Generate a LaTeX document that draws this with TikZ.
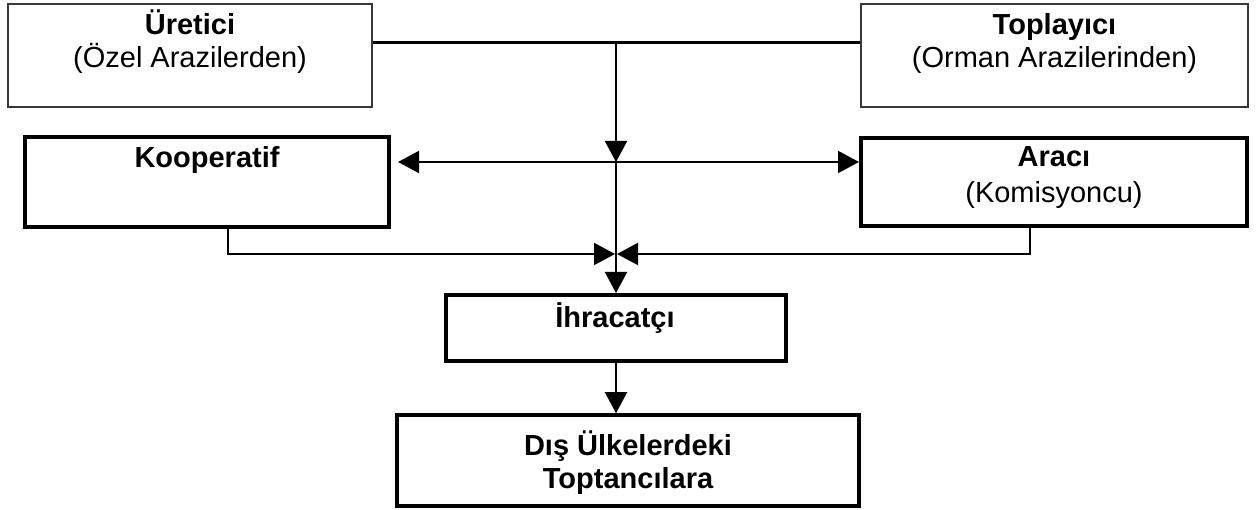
\documentclass[tikz,border=0pt]{standalone}
\usepackage{fontspec}
\setmainfont{Liberation Sans}
\usetikzlibrary{arrows.meta,calc}
\begin{document}
\begin{tikzpicture}[x=1pt,y=-1pt,
  thinbox/.style={draw=black!78,line width=1.5pt,inner sep=0pt},
  thickbox/.style={draw=black,line width=4pt,inner sep=0pt},
  midbox/.style={draw=black,line width=3.5pt,inner sep=0pt},
  conn/.style={line width=2pt},
  arr/.style={-{Triangle[length=21pt,width=22pt]}},
  txt/.style={anchor=base,inner sep=0pt,font=\fontsize{29}{34}\selectfont},
  btxt/.style={txt,font=\fontsize{29}{34}\selectfont\bfseries}]
\useasboundingbox[fill=white] (0,0) rectangle (1259,510);
% boxes
\node[thinbox,minimum width=364pt,minimum height=103pt] (ure) at (190,55.5) {};
\node[thinbox,minimum width=387pt,minimum height=103pt] (top) at (1054.5,55.5) {};
\node[thickbox,minimum width=364pt,minimum height=90pt] (koop) at (207,182) {};
\node[thickbox,minimum width=386pt,minimum height=88pt] (araci) at (1054,182) {};
\node[thickbox,minimum width=340pt,minimum height=66pt] (ihr) at (616,328) {};
\node[midbox,minimum width=462pt,minimum height=91pt] (dis) at (628,460.5) {};
% texts
\node[btxt] (ure1) at (190,35) {Üretici};
\node[txt] (ure2) at (190,68) {(Özel Arazilerden)};
\node[btxt] (top1) at (1054.5,35) {Toplayıcı};
\node[txt] (top2) at (1054.5,68) {(Orman Arazilerinden)};
\node[btxt] (koop1) at (207,168) {Kooperatif};
\node[btxt] (araci1) at (1054,167) {Aracı};
\node[txt] (araci2) at (1054,203) {(Komisyoncu)};
\node[btxt] (ihr1) at (615,328) {İhracatçı};
\node[btxt] (dis1) at (628,456) {Dış Ülkelerdeki};
\node[btxt] (dis2) at (628,489) {Toptancılara};
% junctions
\coordinate (j1) at (616,42.5);
\coordinate (j2) at (616,162);
\coordinate (j3) at (616,254);
% connectors
\draw[line width=3pt] (ure.east |- j1) -- (top.west |- j1);
\draw[conn,arr] (j1) -- (j2);
\draw[conn,{Triangle[length=21pt,width=22pt]}-{Triangle[length=21pt,width=22pt]}]
  ([xshift=7pt]koop.east |- j2) -- (araci.west |- j2);
\draw[conn,arr] (j2) -- (ihr.north);
\draw[conn,arr] ([xshift=21pt]koop.south) |- ([xshift=-1pt]j3);
\draw[conn,arr] ([xshift=-24pt]araci.south) |- ([xshift=1pt]j3);
\draw[conn,arr] (ihr.south) -- (ihr.south |- dis.north);
\end{tikzpicture}
\end{document}
